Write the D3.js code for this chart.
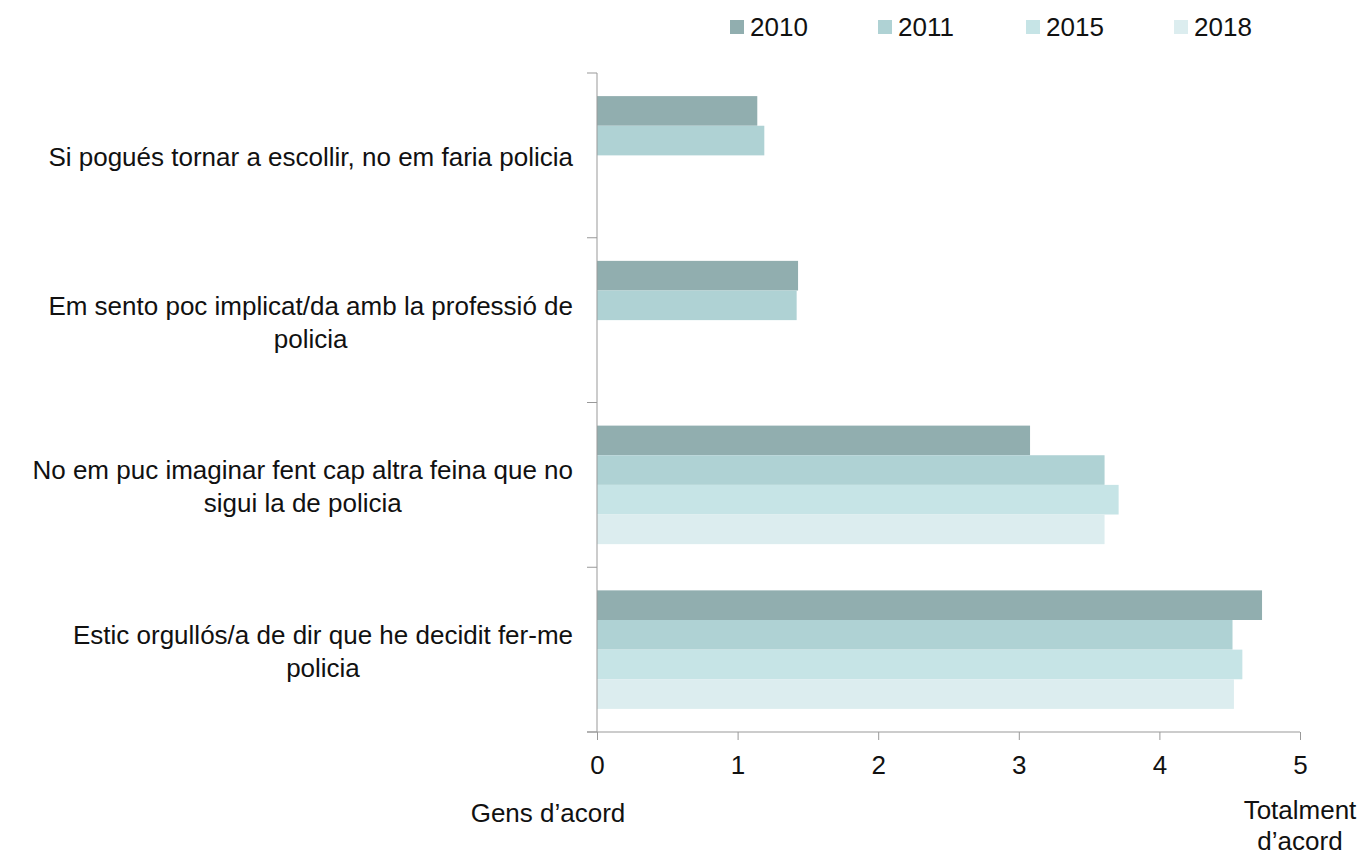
<!DOCTYPE html>
<html lang="ca">
  <head>
    <meta charset="utf-8">
    <title>Implicació amb la professió</title>
    <script src="https://cdn.jsdelivr.net/npm/d3@7"></script>
    <style>
      body { margin: 0; background: #fff; }
      text { font-family: "Liberation Sans", Arial, sans-serif; fill: #111; }
    </style>
  </head>
  <body>
    <script>
    // statements, top to bottom (line breaks as in the original)
    var categories = [
      ["Si pogués tornar a escollir, no em faria policia"],
      ["Em sento poc implicat/da amb la professió de", "policia"],
      ["No em puc imaginar fent cap altra feina que no", "sigui la de policia"],
      ["Estic orgullós/a de dir que he decidit fer-me", "policia"]
    ];
    var years = ["2010", "2011", "2015", "2018"];
    var colors = ["#91aeaf", "#afd2d4", "#c6e4e6", "#dcedef"];

    // mean score per year (null = not asked)
    var v2010 = [1.14, 1.43, 3.08, 4.73];
    var v2011 = [1.19, 1.42, 3.61, 4.52];
    var v2015 = [null, null, 3.71, 4.59];
    var v2018 = [null, null, 3.61, 4.53];
    var series = [v2010, v2011, v2015, v2018];

    var xTicks = [0, 1, 2, 3, 4, 5];
    var lowLabel = "Gens d’acord";
    var highLabel = ["Totalment", "d’acord"];

    var w = 1364, h = 857;
    var mLeft = 597, mRight = 1300, mTop = 73, mBottom = 732;
    var fs = "26px";

    var svg = d3.select("body").append("svg")
                .attr("width", w)
                .attr("height", h);

    var catIdx = categories.map(function(d, i) { return i; });

    var xScale = d3.scaleLinear().domain([0, 5]).range([mLeft, mRight]);
    var yScale = d3.scaleBand().domain(catIdx).range([mTop, mBottom]);
    var ySub = d3.scaleBand().domain(years)
                 .range([0, yScale.bandwidth()])
                 .paddingOuter(0.78);

    // bars
    years.forEach(function(yr, s) {
      var rows = series[s].map(function(v, i) { return {i: i, v: v}; })
                          .filter(function(d) { return d.v != null; });
      svg.append("g").selectAll("rect")
         .data(rows)
         .enter()
         .append("rect")
         .attr("x", xScale(0))
         .attr("y", function(d) { return yScale(d.i) + ySub(yr); })
         .attr("width", function(d) { return xScale(d.v) - xScale(0); })
         .attr("height", ySub.bandwidth())
         .attr("fill", colors[s]);
    });

    // x axis
    var xAxis = d3.axisBottom(xScale).tickValues(xTicks).tickSize(8).tickPadding(16)
                  .tickFormat(d3.format("d"));
    var gx = svg.append("g").attr("transform", "translate(0," + mBottom + ")").call(xAxis);
    gx.select(".domain").attr("stroke", "#999").attr("d", "M" + (mLeft - 10) + ",0H" + mRight);
    gx.selectAll(".tick line").attr("stroke", "#999");
    gx.selectAll(".tick text").style("font-size", fs).attr("fill", "#111")
      .style("font-family", "'Liberation Sans', Arial, sans-serif");

    // y axis: ticks at band edges
    var edges = catIdx.map(function(i) { return yScale(i); }).concat([mBottom]);
    svg.append("line")
       .attr("x1", mLeft).attr("x2", mLeft).attr("y1", mTop).attr("y2", mBottom)
       .attr("stroke", "#999");
    svg.selectAll(".ytick")
       .data(edges)
       .enter()
       .append("line")
       .attr("x1", mLeft - 10).attr("x2", mLeft)
       .attr("y1", function(d) { return d; }).attr("y2", function(d) { return d; })
       .attr("stroke", "#999");

    // category labels: right-aligned block, lines centred
    var labelRight = 573, lineH = 33;
    categories.forEach(function(lines, i) {
      var g = svg.append("g");
      var cy = yScale(i) + yScale.bandwidth() / 2 + 2;
      var t = g.selectAll("text").data(lines).enter().append("text")
               .attr("text-anchor", "middle")
               .attr("dy", "0.35em")
               .style("font-size", fs)
               .attr("y", function(d, k) { return cy + (k - (lines.length - 1) / 2) * lineH; })
               .text(function(d) { return d; });
      var maxW = d3.max(t.nodes(), function(n) { return n.getComputedTextLength(); });
      t.attr("x", labelRight - maxW / 2);
    });

    // legend
    var legend = svg.append("g");
    years.forEach(function(yr, s) {
      var lx = 730 + s * 148;
      legend.append("rect").attr("x", lx).attr("y", 20).attr("width", 14).attr("height", 14)
            .attr("fill", colors[s]);
      legend.append("text").attr("x", lx + 20).attr("y", 27).attr("dy", "0.35em")
            .style("font-size", fs).text(yr);
    });

    // scale end labels
    svg.append("text").attr("x", 548).attr("y", 813).attr("dy", "0.35em")
       .attr("text-anchor", "middle").style("font-size", fs).text(lowLabel);
    svg.selectAll(".high").data(highLabel).enter().append("text")
       .attr("x", 1300).attr("y", function(d, k) { return 810 + k * 31; })
       .attr("dy", "0.35em").attr("text-anchor", "middle")
       .style("font-size", fs).text(function(d) { return d; });
    </script>
  </body>
</html>
